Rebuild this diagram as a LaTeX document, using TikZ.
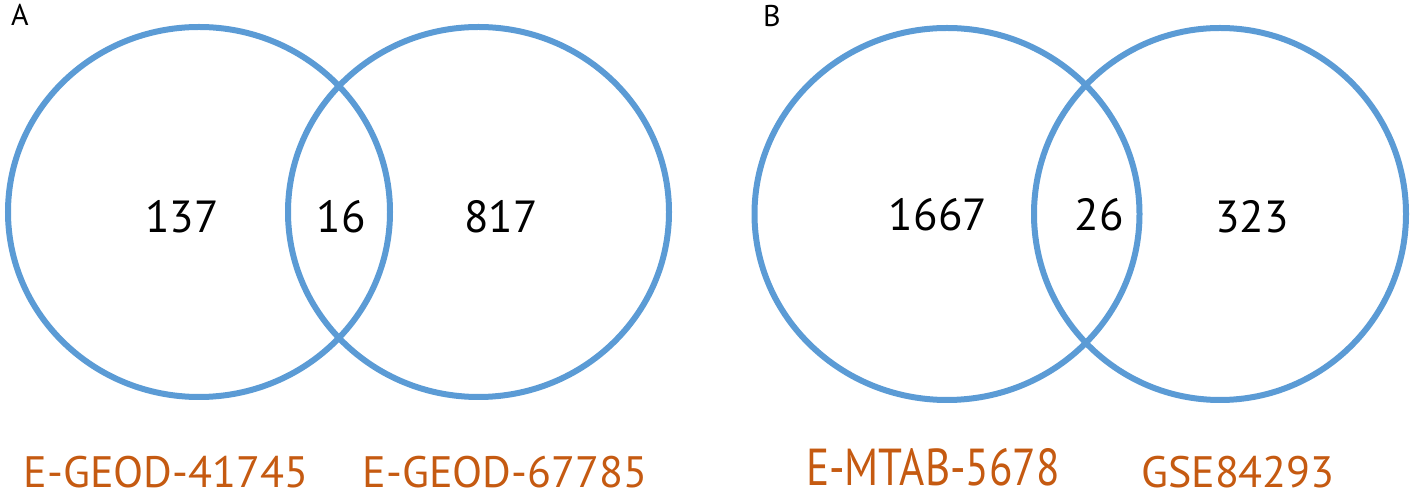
\documentclass[tikz,border=0pt]{standalone}
\usepackage{fontspec}
\setmainfont{PT Sans}
\usepackage{xcolor}
\usetikzlibrary{shapes.geometric}
\definecolor{vennblue}{HTML}{5B9BD5}
\definecolor{vennorange}{HTML}{C55A11}

\begin{document}
\begin{tikzpicture}[x=1pt,y=1pt,
    set/.style={ellipse, draw = vennblue, line width = 6pt, inner sep = 0pt},
    count/.style={font=\fontsize{45}{52}\selectfont},
    dataset/.style={anchor=base, inner sep = 0pt, text = vennorange, font=\fontsize{44}{50}\selectfont},
    panel/.style={font=\fontsize{30}{34}\selectfont}
    ]

    \useasboundingbox (0,0) rectangle (1411,500);

    % panel A
    \node[panel] (labA) at (20,485) {A};

    \node[set,
          minimum width = 382pt,
          minimum height = 370pt
          ] (geod1) at (199,288) {};
    \node[set,
          minimum width = 381pt,
          minimum height = 370pt
          ] (geod2) at (478.5,288) {};

    \node[count] (onlyA1) at (182,283) {137};
    \node[count] (bothA) at (341,283) {16};
    \node[count] (onlyA2) at (501,283) {817};

    \node[dataset] (nameA1) at (166,12) {E-GEOD-41745};
    \node[dataset] (nameA2) at (505,12) {E-GEOD-67785};

    % panel B
    \node[panel] (labB) at (772,484) {B};

    \node[set,
          minimum width = 385pt,
          minimum height = 372pt
          ] (mtab) at (947,286) {};
    \node[set,
          minimum width = 372pt,
          minimum height = 372pt
          ] (gse) at (1220,286) {};

    \node[count] (onlyB1) at (938,285) {1667};
    \node[count] (bothB) at (1099,285) {26};
    \node[count] (onlyB2) at (1252,283) {323};

    \node[dataset, font=\fontsize{52}{58}\selectfont, xscale=0.83] (nameB1) at (933,14) {E-MTAB-5678};
    \node[dataset] (nameB2) at (1238,12) {GSE84293};

\end{tikzpicture}
\end{document}
